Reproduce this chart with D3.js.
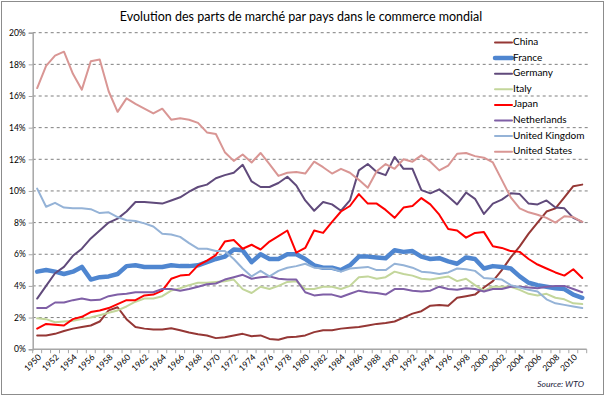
<!DOCTYPE html>
<html><head><meta charset="utf-8">
<script src="https://cdn.jsdelivr.net/npm/d3@7/dist/d3.min.js"></script>
<style>body{margin:0;background:#fff}svg{display:block}</style>
</head><body>
<svg id="c" width="605" height="396"></svg>
<script>
const years = [1950,1951,1952,1953,1954,1955,1956,1957,1958,1959,1960,1961,1962,1963,1964,1965,1966,1967,1968,1969,1970,1971,1972,1973,1974,1975,1976,1977,1978,1979,1980,1981,1982,1983,1984,1985,1986,1987,1988,1989,1990,1991,1992,1993,1994,1995,1996,1997,1998,1999,2000,2001,2002,2003,2004,2005,2006,2007,2008,2009,2010,2011];
const xTickLabels = [1950,1952,1954,1956,1958,1960,1962,1964,1966,1968,1970,1972,1974,1976,1978,1980,1982,1984,1986,1988,1990,1992,1994,1996,1998,2000,2002,2004,2006,2008,2010];
const yTicks = [0,2,4,6,8,10,12,14,16,18,20];

const china = [0.87,0.87,0.97,1.15,1.3,1.4,1.5,1.75,2.45,2.65,1.9,1.4,1.3,1.25,1.25,1.33,1.2,1.05,0.95,0.87,0.7,0.75,0.87,0.97,0.82,0.87,0.65,0.6,0.75,0.78,0.87,1.08,1.2,1.2,1.3,1.35,1.4,1.5,1.6,1.65,1.75,2.0,2.25,2.4,2.75,2.8,2.75,3.25,3.35,3.45,3.9,4.3,5.0,5.8,6.5,7.3,8.0,8.7,8.9,9.6,10.3,10.4];
const france = [4.9,5.0,4.9,4.75,4.9,5.2,4.4,4.55,4.6,4.75,5.25,5.3,5.2,5.2,5.2,5.3,5.25,5.25,5.3,5.5,5.7,5.85,6.3,6.25,5.5,6.0,5.7,5.7,6.0,6.0,5.7,5.3,5.15,5.15,5.0,5.3,5.85,5.85,5.8,5.75,6.25,6.15,6.2,5.85,5.7,5.75,5.55,5.4,5.8,5.7,5.1,5.25,5.2,5.1,4.6,4.2,4.05,3.95,3.85,3.8,3.45,3.25];
const germany = [3.2,4.0,4.8,5.2,5.9,6.35,7.0,7.5,8.0,8.25,8.7,9.3,9.3,9.25,9.2,9.4,9.6,9.95,10.25,10.4,10.8,11.0,11.15,11.65,10.6,10.25,10.25,10.5,10.9,10.35,9.4,8.75,9.3,9.15,8.75,9.4,11.3,11.7,11.2,11.0,12.15,11.4,11.4,10.05,9.85,10.1,9.65,9.15,9.9,9.5,8.55,9.2,9.45,9.85,9.8,9.2,9.15,9.4,8.95,8.9,8.3,8.05];
const italy = [1.95,1.9,1.7,1.75,1.8,1.9,2.0,2.15,2.3,2.45,2.7,3.0,3.2,3.2,3.35,3.7,3.85,4.05,4.2,4.2,4.25,4.3,4.4,3.8,3.55,3.95,3.8,4.0,4.25,4.3,3.8,3.8,3.95,3.95,3.8,4.0,4.55,4.6,4.45,4.55,4.9,4.75,4.65,4.45,4.4,4.5,4.6,4.3,4.45,4.05,3.7,3.95,3.95,3.95,3.75,3.5,3.4,3.5,3.25,3.15,2.9,2.85];
const japan = [1.3,1.6,1.55,1.5,1.9,2.05,2.35,2.45,2.6,2.85,3.1,3.1,3.4,3.45,3.7,4.45,4.65,4.7,5.3,5.6,5.95,6.8,6.9,6.35,6.6,6.3,6.8,7.15,7.5,6.1,6.4,7.5,7.35,8.05,8.7,9.05,9.8,9.2,9.2,8.8,8.3,8.95,9.05,9.55,9.15,8.5,7.6,7.5,7.05,7.35,7.4,6.5,6.4,6.2,6.15,5.7,5.35,5.1,4.85,4.65,5.05,4.5];
const netherlands = [2.6,2.6,2.95,2.95,3.1,3.2,3.1,3.12,3.35,3.45,3.5,3.6,3.6,3.6,3.8,3.8,3.7,3.8,3.95,4.1,4.15,4.4,4.55,4.7,4.45,4.55,4.6,4.45,4.4,4.4,3.6,3.4,3.45,3.45,3.3,3.5,3.7,3.6,3.55,3.45,3.8,3.8,3.7,3.65,3.7,3.95,3.8,3.75,3.85,3.8,3.65,3.8,3.8,3.95,3.95,3.9,3.85,3.95,4.0,4.0,3.8,3.6];
const uk = [10.15,9.0,9.25,8.95,8.9,8.9,8.85,8.6,8.65,8.35,8.15,8.1,7.95,7.75,7.3,7.25,7.1,6.7,6.35,6.35,6.2,6.2,5.7,5.1,4.6,4.95,4.6,4.95,5.15,5.25,5.4,5.15,5.1,5.1,4.9,5.1,5.15,5.2,5.0,5.0,5.4,5.3,5.15,4.9,4.85,4.75,4.85,5.1,5.05,4.95,4.5,4.45,4.4,4.05,3.9,3.75,3.65,3.15,2.9,2.8,2.7,2.6];
const us = [16.5,17.9,18.55,18.8,17.4,16.4,18.2,18.3,16.3,15.0,15.85,15.5,15.2,14.9,15.2,14.5,14.6,14.5,14.3,13.7,13.6,12.45,11.9,12.3,11.8,12.4,11.7,10.95,11.15,11.2,11.1,11.85,11.5,11.1,11.4,11.15,10.7,10.2,11.25,11.7,11.4,12.0,11.85,12.25,11.85,11.3,11.6,12.35,12.4,12.2,12.1,11.8,10.7,9.6,8.9,8.65,8.5,8.3,8.0,8.4,8.35,8.05];

const seriesNames = ["China","France","Germany","Italy","Japan","Netherlands","United Kingdom","United States"];
const seriesValues = [china,france,germany,italy,japan,netherlands,uk,us];
const seriesColors = ["#953735","#4F86D0","#604A7B","#C3D69B","#FF0000","#7F5FA6","#95B3D7","#D99694"];
const seriesWidths = [2,4.5,2,2,2,2,2,2];

const svg = d3.select("#c");
const font = "Lato, 'Open Sans', sans-serif";
const L = 32.7, R = 586.7, T = 32.7, B = 349.2;

svg.append("rect").attr("x",1.5).attr("y",1.5).attr("width",602).attr("height",393)
  .attr("fill","#fff").attr("stroke","#8c8c8c").attr("stroke-width",1);

const x = d3.scaleBand().domain(years).range([L, R]).padding(0);
const xc = d => x(d) + x.bandwidth()/2;
const y = d3.scaleLinear().domain([0,20]).range([B, T]);

// gridlines
svg.append("g").selectAll("line").data(yTicks.filter(d=>d>0)).join("line")
  .attr("x1", L).attr("x2", R+2).attr("y1", d=>y(d)).attr("y2", d=>y(d))
  .attr("stroke","#7f7f7f").attr("stroke-width",1).attr("stroke-dasharray","3,3");

// y axis
const yAxis = svg.append("g").attr("transform",`translate(${L},0)`)
  .call(d3.axisLeft(y).tickValues(yTicks).tickFormat(d=>d+"%").tickSize(4).tickPadding(3));
yAxis.select(".domain").attr("stroke","#a6a6a6").attr("stroke-width",1.5);
yAxis.selectAll(".tick line").attr("stroke","#a6a6a6");
yAxis.selectAll("text").attr("font-family",font).attr("font-size",8.5).attr("fill","#000");

// x axis
svg.append("line").attr("x1",L).attr("x2",R).attr("y1",B).attr("y2",B).attr("stroke","#a6a6a6").attr("stroke-width",1.5);
const bounds = years.map(d=>x(d)).concat([R]);
svg.append("g").selectAll("line").data(bounds).join("line")
  .attr("x1",d=>d).attr("x2",d=>d).attr("y1",B).attr("y2",B+4).attr("stroke","#a6a6a6");
svg.append("g").selectAll("text").data(xTickLabels).join("text")
  .attr("transform", d=>`translate(${xc(d)+3},${B+7}) rotate(-45)`)
  .attr("text-anchor","end").attr("dominant-baseline","middle")
  .attr("font-family",font).attr("font-size",8.5).attr("fill","#000")
  .text(d=>d);

// lines
const line = d3.line().x((d,i)=>xc(years[i])).y(d=>y(d));
seriesValues.forEach((vals,k)=>{
  svg.append("path").datum(vals).attr("d",line).attr("fill","none")
    .attr("stroke",seriesColors[k]).attr("stroke-width",seriesWidths[k])
    .attr("stroke-linejoin","round").attr("stroke-linecap","round");
});

// legend
const lg = svg.append("g");
seriesNames.forEach((n,k)=>{
  const yy = 42.5 + k*15.6;
  lg.append("line").attr("x1",495).attr("x2",512).attr("y1",yy).attr("y2",yy)
    .attr("stroke",seriesColors[k]).attr("stroke-width",seriesWidths[k]).attr("stroke-linecap","round");
  lg.append("text").attr("x",513).attr("y",yy).attr("dominant-baseline","middle")
    .attr("font-family",font).attr("font-size",10).attr("fill","#000").text(n);
});

// title
svg.append("text").attr("x",301).attr("y",21).attr("text-anchor","middle")
  .attr("font-family",font).attr("font-size",12.5).attr("fill","#000")
  .text("Evolution des parts de marché par pays dans le commerce mondial");

// source
svg.append("text").attr("x",584).attr("y",387).attr("text-anchor","end")
  .attr("font-family",font).attr("font-size",8.5).attr("font-style","italic").attr("fill","#1a1a3a")
  .text("Source: WTO");
</script>
</body></html>
